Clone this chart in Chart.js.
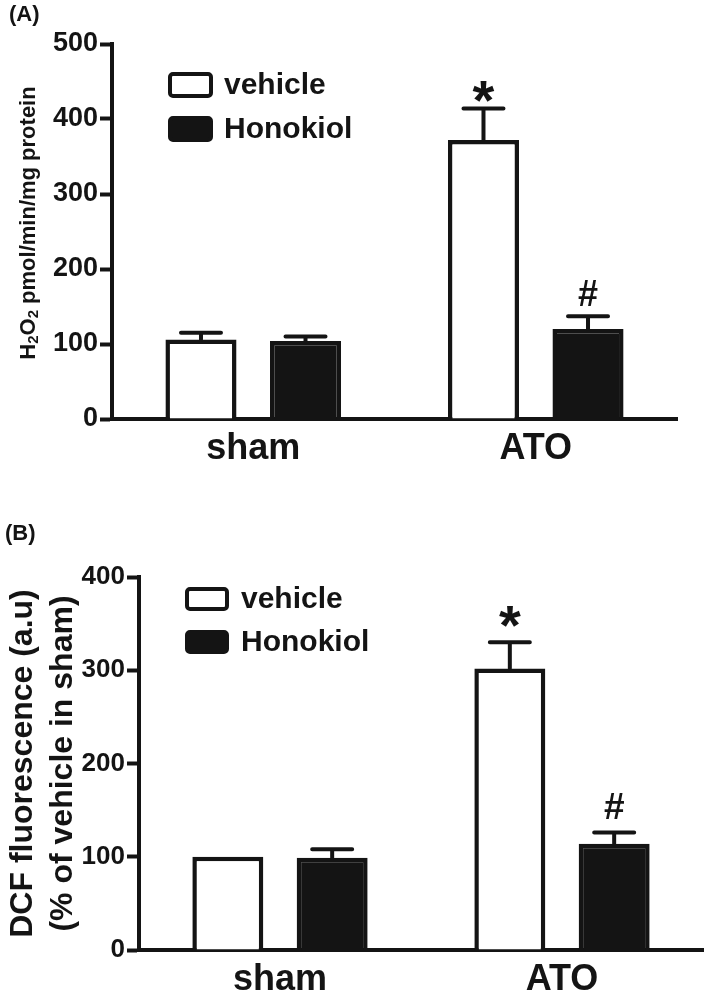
<!DOCTYPE html>
<html>
<head>
<meta charset="utf-8">
<script src="https://cdn.jsdelivr.net/npm/chart.js@4.4.1/dist/chart.umd.min.js"></script>
<style>
  html, body { margin: 0; padding: 0; background: #fff; }
  body { width: 709px; height: 992px; position: relative; overflow: hidden; }
  .panel { position: absolute; left: 0; }
  #panelA { top: 0; }
  #panelB { top: 480px; }
</style>
</head>
<body>
<div class="panel" id="panelA"><canvas id="chartA" width="709" height="480"></canvas></div>
<div class="panel" id="panelB"><canvas id="chartB" width="709" height="512"></canvas></div>
<script>
// ============================================
// DATA
// ============================================
const categories = ['sham', 'ATO'];
const seriesNames = ['vehicle', 'Honokiol'];

// (A) H2O2 production
const aVehicle = [106, 372];
const aVehicleErr = [9, 42];
const aHonokiol = [104, 120];
const aHonokiolErr = [6, 17];
const aVehicleMarks = ['', '*'];
const aHonokiolMarks = ['', '#'];
const aTicks = [0, 100, 200, 300, 400, 500];

// (B) DCF fluorescence
const bVehicle = [100, 302];
const bVehicleErr = [0, 28];
const bHonokiol = [99, 114];
const bHonokiolErr = [9, 12];
const bVehicleMarks = ['', '*'];
const bHonokiolMarks = ['', '#'];
const bTicks = [0, 100, 200, 300, 400];

const FONT = '"Liberation Sans", Arial, Helvetica, sans-serif';
const INK = '#141414';

Chart.defaults.font.family = FONT;
Chart.defaults.color = INK;

// ============================================
// PLUGINS
// ============================================
// error bars (upper only) + significance marks
const errorBarPlugin = {
  id: 'errorBars',
  afterDatasetsDraw(chart, args, opts) {
    const ctx = chart.ctx;
    const yScale = chart.scales.y;
    chart.data.datasets.forEach((ds, di) => {
      const meta = chart.getDatasetMeta(di);
      meta.data.forEach((bar, i) => {
        const err = ds.errors[i];
        const capY = yScale.getPixelForValue(ds.data[i] + err);
        ctx.save();
        ctx.strokeStyle = INK;
        ctx.lineWidth = 4;
        ctx.lineCap = 'round';
        if (err > 0) {
          ctx.beginPath();
          ctx.moveTo(bar.x, bar.y);
          ctx.lineTo(bar.x, capY);
          ctx.moveTo(bar.x - opts.capHalf, capY);
          ctx.lineTo(bar.x + opts.capHalf, capY);
          ctx.stroke();
        }
        const mark = ds.marks[i];
        if (mark) {
          const m = opts.marks[mark];
          ctx.fillStyle = INK;
          ctx.font = 'bold ' + m.size + 'px ' + FONT;
          ctx.textAlign = 'center';
          ctx.textBaseline = 'alphabetic';
          ctx.fillText(mark, bar.x, capY - m.lift);
        }
        ctx.restore();
      });
    });
  }
};

// legend drawn inside the plot area
const boxLegendPlugin = {
  id: 'boxLegend',
  afterDraw(chart, args, opts) {
    const ctx = chart.ctx;
    chart.data.datasets.forEach((ds, di) => {
      const x = opts.x;
      const y = opts.y + di * opts.rowGap;
      ctx.save();
      ctx.beginPath();
      ctx.roundRect(x + 2, y + 2, opts.boxW - 4, opts.boxH - 4, 3);
      ctx.fillStyle = ds.backgroundColor;
      ctx.fill();
      ctx.lineWidth = 4;
      ctx.strokeStyle = INK;
      ctx.stroke();
      ctx.fillStyle = INK;
      ctx.font = 'bold ' + opts.fontSize + 'px ' + FONT;
      ctx.textAlign = 'left';
      ctx.textBaseline = 'middle';
      ctx.fillText(ds.label, x + opts.boxW + opts.textGap, y + opts.boxH / 2 + 1);
      ctx.restore();
    });
  }
};

// panel letter and the H2O2 axis title with subscripts
const panelTextPlugin = {
  id: 'panelText',
  afterDraw(chart, args, opts) {
    const ctx = chart.ctx;
    ctx.save();
    ctx.fillStyle = INK;
    ctx.font = 'bold 22px ' + FONT;
    ctx.textBaseline = 'alphabetic';
    ctx.textAlign = 'left';
    ctx.fillText(opts.letter, opts.letterX, opts.letterY);
    if (opts.h2o2) {
      const t = opts.h2o2;
      const parts = [
        { s: 'H', sub: false }, { s: '2', sub: true },
        { s: 'O', sub: false }, { s: '2', sub: true },
        { s: ' pmol/min/mg protein', sub: false }
      ];
      const big = 'bold ' + t.size + 'px ' + FONT;
      const small = 'bold ' + Math.round(t.size * 0.68) + 'px ' + FONT;
      let total = 0;
      parts.forEach(p => { ctx.font = p.sub ? small : big; total += ctx.measureText(p.s).width; });
      ctx.translate(t.x, t.cy);
      ctx.rotate(-Math.PI / 2);
      let cx = -total / 2;
      parts.forEach(p => {
        ctx.font = p.sub ? small : big;
        ctx.fillText(p.s, cx, p.sub ? t.size * 0.5 : t.size * 0.36);
        cx += ctx.measureText(p.s).width;
      });
    }
    ctx.restore();
  }
};

// ============================================
// CHART FACTORY
// ============================================
function makeChart(id, cfg) {
  const axisFont = { size: cfg.tickSize, weight: 'bold' };
  return new Chart(document.getElementById(id), {
    type: 'bar',
    data: {
      labels: categories,
      datasets: [
        {
          label: seriesNames[0],
          data: cfg.vehicle,
          errors: cfg.vehicleErr,
          marks: cfg.vehicleMarks,
          backgroundColor: '#ffffff',
          borderColor: INK,
          borderWidth: 4.5,
          categoryPercentage: 0.74,
          barPercentage: 0.68
        },
        {
          label: seriesNames[1],
          data: cfg.honokiol,
          errors: cfg.honokiolErr,
          marks: cfg.honokiolMarks,
          backgroundColor: INK,
          borderColor: INK,
          borderWidth: 4.5,
          categoryPercentage: 0.74,
          barPercentage: 0.68
        }
      ]
    },
    options: {
      responsive: false,
      animation: false,
      devicePixelRatio: 1,
      layout: { padding: { top: cfg.padTop, right: cfg.padRight, left: 0, bottom: 0 } },
      plugins: {
        legend: { display: false },
        tooltip: { enabled: false },
        errorBars: { capHalf: 20, marks: cfg.marks },
        boxLegend: cfg.legend,
        panelText: cfg.panelText
      },
      scales: {
        x: {
          grid: { display: false },
          border: { display: true, color: INK, width: 4 },
          ticks: { color: INK, font: { size: 36, weight: 'bold' }, padding: cfg.xPad },
          afterFit(scale) { scale.height = cfg.xHeight; }
        },
        y: {
          min: 0,
          max: cfg.ticks[cfg.ticks.length - 1],
          afterBuildTicks(scale) { scale.ticks = cfg.ticks.map(v => ({ value: v })); },
          grid: { drawOnChartArea: false, tickLength: 12, tickWidth: 4, tickColor: INK },
          border: { display: true, color: INK, width: 4 },
          ticks: { color: INK, font: axisFont, padding: 2 },
          title: cfg.yTitle,
          afterFit(scale) { scale.width = cfg.yWidth; }
        }
      }
    },
    plugins: [errorBarPlugin, boxLegendPlugin, panelTextPlugin]
  });
}

// ============================================
// PANEL A
// ============================================
makeChart('chartA', {
  vehicle: aVehicle, vehicleErr: aVehicleErr, vehicleMarks: aVehicleMarks,
  honokiol: aHonokiol, honokiolErr: aHonokiolErr, honokiolMarks: aHonokiolMarks,
  ticks: aTicks,
  tickSize: 27,
  padTop: 44, padRight: 32,
  yWidth: 112, xHeight: 61, xPad: 0,
  yTitle: { display: false },
  marks: { '*': { size: 56, lift: -10 }, '#': { size: 36, lift: 10 } },
  legend: { x: 168, y: 72, rowGap: 44, boxW: 45, boxH: 26, textGap: 11, fontSize: 30 },
  panelText: { letter: '(A)', letterX: 9, letterY: 21, h2o2: { x: 27, cy: 223, size: 22 } }
});

// ============================================
// PANEL B
// ============================================
makeChart('chartB', {
  vehicle: bVehicle, vehicleErr: bVehicleErr, vehicleMarks: bVehicleMarks,
  honokiol: bHonokiol, honokiolErr: bHonokiolErr, honokiolMarks: bHonokiolMarks,
  ticks: bTicks,
  tickSize: 26,
  padTop: 97, padRight: 6,
  yWidth: 139, xHeight: 42, xPad: 0,
  yTitle: {
    display: true,
    text: ['DCF fluorescence (a.u)', '(% of vehicle in sham)'],
    color: INK,
    font: { size: 32, weight: 'bold', lineHeight: 1.25 },
    padding: { top: 3, bottom: 0 }
  },
  marks: { '*': { size: 56, lift: -2 }, '#': { size: 37, lift: 14 } },
  legend: { x: 185, y: 107, rowGap: 43, boxW: 44, boxH: 24, textGap: 12, fontSize: 30 },
  panelText: { letter: '(B)', letterX: 5, letterY: 60 }
});
</script>
</body>
</html>
